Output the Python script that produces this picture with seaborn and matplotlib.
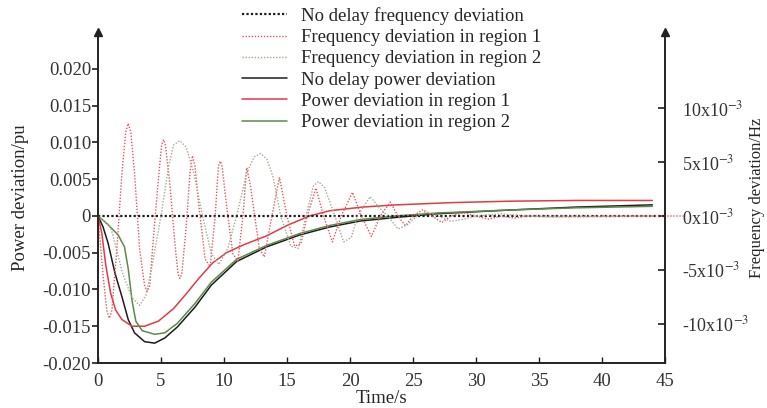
import matplotlib
matplotlib.use("Agg")
import matplotlib.pyplot as plt
import numpy as np
import pandas as pd
import seaborn as sns

# power deviation curves (pu, in units of 1e-3)
t_p0 = [0, 0.4, 0.8, 1.35, 1.9, 2.4, 2.9, 3.7, 4.5, 5.3, 6.3, 7.7, 9.0, 11.0, 13.4, 16.0, 18.4, 20.8, 23.7, 27.0, 32.7, 38.0, 44.0]
p_nodelay = [0, -1.5, -3.7, -7.8, -11.0, -14.1, -15.9, -17.1, -17.3, -16.6, -15.1, -12.4, -9.4, -6.2, -4.2, -2.6, -1.5, -0.7, -0.2, 0.3, 0.8, 1.2, 1.5]

t_p1 = [0, 0.3, 0.6, 1.0, 1.4, 1.9, 2.7, 3.7, 4.8, 6.0, 7.0, 8.0, 9.1, 10.2, 11.6, 13.4, 15.0, 16.8, 18.4, 21.0, 23.7, 28.0, 32.7, 38.0, 44.0]
p_region1 = [0, -2.3, -6.5, -10.5, -12.8, -14.1, -15.0, -15.0, -14.3, -12.6, -10.6, -8.5, -6.4, -5.0, -3.9, -2.7, -1.3, 0.0, 0.7, 1.2, 1.5, 1.8, 2.0, 2.1, 2.1]

t_p2 = [0, 0.8, 1.6, 2.1, 2.4, 2.7, 3.0, 3.5, 4.5, 5.3, 6.3, 7.7, 9.0, 11.0, 13.4, 16.0, 18.4, 20.8, 23.7, 27.0, 32.7, 38.0, 44.0]
p_region2 = [0, -1.2, -2.6, -4.2, -7.2, -11.5, -14.3, -15.6, -16.1, -15.9, -14.6, -11.9, -9.0, -5.9, -4.0, -2.4, -1.3, -0.5, 0.0, 0.4, 0.8, 1.1, 1.3]

# frequency deviation curves (Hz, in units of 1e-3)
t_f0 = [0, 45]
f_nodelay = [0, 0]

t_f1 = [0, 0.4, 0.7, 0.9, 1.1, 1.5, 1.9, 2.2, 2.4, 2.6, 2.9, 3.3, 3.7, 3.9, 4.1, 4.4, 4.8, 5.05, 5.2, 5.35,
        5.7, 6.1, 6.35, 6.5, 6.65, 7.0, 7.3, 7.5, 7.7, 8.0, 8.5, 8.9, 9.3, 9.55, 9.7, 9.85, 10.2, 10.7, 11.1,
        11.5, 11.8, 12.1, 12.8, 13.2, 13.8, 14.4, 15.0, 15.6, 16.1, 16.6, 17.3, 17.9, 18.6, 19.3, 20.2, 20.9,
        21.7, 22.4, 23.2, 23.8, 24.4, 25.0, 25.8, 26.5, 27.3, 28.0, 29.0, 30.0, 31.0, 32.0, 33.0, 34.0, 46.5]
f_region1 = [0, -5.5, -8.8, -9.5, -8.8, -3.0, 4.0, 7.8, 8.6, 7.8, 4.0, -3.0, -6.5, -7.0, -6.5, -2.0, 3.5, 6.6, 7.1, 6.6,
             3.0, -2.5, -5.4, -5.8, -5.4, -1.0, 4.0, 5.6, 4.6, 1.0, -4.0, -4.7, 0, 4.6, 5.1, 4.6, 1.0, -3.5, -4.2,
             0, 4.5, 2.8, -3.0, -3.8, 0, 3.6, 0, -2.8, -2.6, 0, 2.6, 0, -2.4, 0, 2.2, 0,
             -1.9, 0, 1.3, 0, -0.9, 0, 0.6, 0, -0.6, 0, 0.3, 0, -0.3, 0, -0.2, 0, 0]

t_f2 = [0, 1.0, 2.0, 2.7, 3.3, 3.8, 4.3, 5.0, 5.6, 6.0, 6.5, 7.0, 7.6, 8.3, 9.0, 9.6, 10.3, 11.0, 11.8, 12.4,
        12.9, 13.4, 13.9, 14.5, 15.3, 15.9, 16.5, 17.1, 17.5, 18.0, 18.8, 19.5, 20.1, 20.6, 21.6, 22.3, 23.0,
        23.8, 24.6, 25.3, 26.0, 27.0, 28.0, 29.0, 30.0, 32.0, 34.0, 36.0, 44.0]
f_region2 = [0, -1.0, -5.5, -7.6, -8.3, -7.4, -4.6, 0, 4.6, 6.6, 7.0, 6.4, 4.0, 0, -3.5, -4.5, -3.0, 0, 4.0, 5.5,
             5.8, 5.3, 3.6, 0, -2.8, -3.0, 0, 2.8, 3.2, 2.6, 0, -2.4, -2.0, 0, 1.8, 0.8, 0,
             -1.2, -0.8, 0, 0.4, 0, -0.5, -0.3, 0, 0.2, 0, -0.1, 0]

labels = [
    "No delay frequency deviation",
    "Frequency deviation in region 1",
    "Frequency deviation in region 2",
    "No delay power deviation",
    "Power deviation in region 1",
    "Power deviation in region 2",
]
left_ticks = [-0.020, -0.015, -0.010, -0.005, 0, 0.005, 0.010, 0.015, 0.020]
left_ticklabels = ["-0.020", "-0.015", "-0.010", "-0.005", "0", "0.005", "0.010", "0.015", "0.020"]
right_ticks = [-10e-3, -5e-3, 0, 5e-3, 10e-3]
right_ticklabels = ["-10x10$^{-3}$", "-5x10$^{-3}$", "0x10$^{-3}$", "5x10$^{-3}$", "10x10$^{-3}$"]
x_ticks = [0, 5, 10, 15, 20, 25, 30, 35, 40, 45]

sns.set_theme(style="white")
plt.rcParams["font.family"] = ["Liberation Serif", "DejaVu Serif"]
plt.rcParams["mathtext.fontset"] = "stix"

BLACK = "#1c1c1c"
RED = "#e03c44"
RED_DOT = "#e8555c"
GREEN = "#5d8a4c"
GREEN_DOT = "#a3aa92"

fig = plt.figure(figsize=(7.67, 4.08), dpi=100)
ax = fig.add_axes([98 / 767, 45 / 408, (665 - 98) / 767, (363 - 32) / 408])
ax2 = ax.twinx()

power = [
    (t_p0, p_nodelay, BLACK),
    (t_p1, p_region1, RED),
    (t_p2, p_region2, GREEN),
]
freq = [
    (t_f0, f_nodelay, BLACK, 1.6, (0, (1, 1))),
    (t_f1, f_region1, RED_DOT, 1.0, (0, (1, 1.2))),
    (t_f2, f_region2, GREEN_DOT, 1.0, (0, (1, 1.2))),
]

for (t, f, c, lw, ls), lab in zip(freq, labels[:3]):
    df = pd.DataFrame({"t": t, "f": np.array(f) * 1e-3})
    sns.lineplot(data=df, x="t", y="f", ax=ax2, color=c, lw=lw, linestyle=ls, sort=False, label=lab)
for line in ax2.lines:
    line.set_clip_on(False)

for (t, p, c), lab in zip(power, labels[3:]):
    df = pd.DataFrame({"t": t, "p": np.array(p) * 1e-3})
    sns.lineplot(data=df, x="t", y="p", ax=ax, color=c, lw=1.1, sort=False, label=lab)

h2, _ = ax2.get_legend_handles_labels()
h1, _ = ax.get_legend_handles_labels()
for a in (ax, ax2):
    if a.get_legend() is not None:
        a.get_legend().remove()

ax.set_xlim(0, 45)
ax.set_ylim(-0.020, 0.025)
ax2.set_ylim(-0.01366, 0.0171)

ax.set_xticks(x_ticks)
ax.set_xticklabels([str(v) for v in x_ticks])
ax.set_yticks(left_ticks)
ax.set_yticklabels(left_ticklabels)
ax2.set_yticks(right_ticks)
ax2.set_yticklabels(right_ticklabels)

fs = 13.5
ax.tick_params(axis="y", direction="out", length=4, width=1.2, color=BLACK, labelsize=fs, pad=1, left=True)
ax.tick_params(axis="x", direction="in", length=4, width=1.0, color=BLACK, labelsize=fs, pad=7, bottom=True)
ax2.tick_params(axis="y", direction="in", length=5, width=1.2, color=BLACK, labelsize=fs - 0.5, pad=12, right=True)
for lab in ax.get_xticklabels() + ax.get_yticklabels() + ax2.get_yticklabels():
    lab.set_color("#333333")

for a in (ax, ax2):
    a.spines["top"].set_visible(False)
    for s in ("left", "right", "bottom"):
        a.spines[s].set_color("#222222")
        a.spines[s].set_linewidth(1.2)
    a.set_xlabel("")
    a.set_ylabel("")

# arrow heads on the two vertical axes
ax.plot([0, 1], [1, 1], transform=ax.transAxes, ls="none", marker="^", ms=6,
        color="#222222", clip_on=False)

ax.set_xlabel("Time/s", fontsize=fs, labelpad=0)
ax.set_ylabel("Power deviation/pu", fontsize=fs, labelpad=10)
ax2.set_ylabel("Frequency deviation/Hz", fontsize=12, labelpad=0)

fig.legend(h2 + h1, labels, loc="upper left", bbox_to_anchor=(242 / 767, 1 - 7 / 408),
           frameon=False, fontsize=fs, handlelength=2.4, handletextpad=0.75,
           labelspacing=0.22, borderaxespad=0, borderpad=0)

fig.savefig("out.png", dpi=100)
